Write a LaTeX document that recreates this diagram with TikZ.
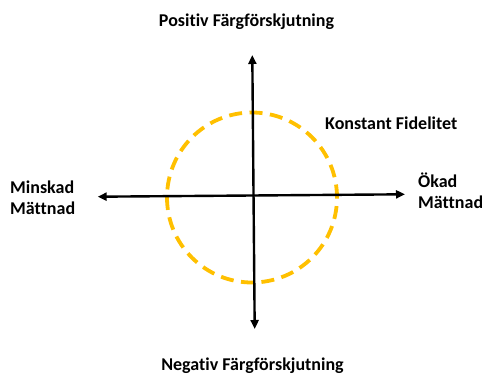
\documentclass[tikz,border=0pt]{standalone}
\usepackage{fontspec}
\setmainfont[Ligatures=NoCommon]{Carlito}
\usetikzlibrary{arrows.meta}
\definecolor{gold}{HTML}{FFC000}
\begin{document}
\begin{tikzpicture}[x=1pt,y=-1pt,
  lbl/.style={font=\bfseries\fontsize{18}{21}\selectfont, inner sep=0pt, align=left},
  axis/.style={line width=2.4pt, {Triangle[length=9pt,width=8pt]}-{Triangle[length=9pt,width=8pt]}},
  ring/.style={draw=gold, line width=3.8pt, dash pattern=on 13pt off 7.5pt, circle, minimum size=170pt, inner sep=0pt}]
\useasboundingbox (0,0) rectangle (482,373);
\coordinate (top) at (252.3,55);
\coordinate (bot) at (254.7,329);
\coordinate (lft) at (97.7,196.7);
\coordinate (rgt) at (405,194.3);
\node[ring] (circ) at (252,197.5) {};
\draw[axis] (bot) -- (top);
\draw[axis] (lft) -- (rgt);
\node[lbl] (pos) at (246.5,22) {Positiv Färgförskjutning};
\node[lbl] (neg) at (252.5,366) {Negativ Färgförskjutning};
\node[lbl, anchor=west] (minsk) at (10,198) {Minskad\\Mättnad};
\node[lbl, anchor=west] (okad) at (418,191) {Ökad\\Mättnad};
\node[lbl, anchor=west] (konst) at (325,123) {Konstant Fidelitet};
\end{tikzpicture}
\end{document}
